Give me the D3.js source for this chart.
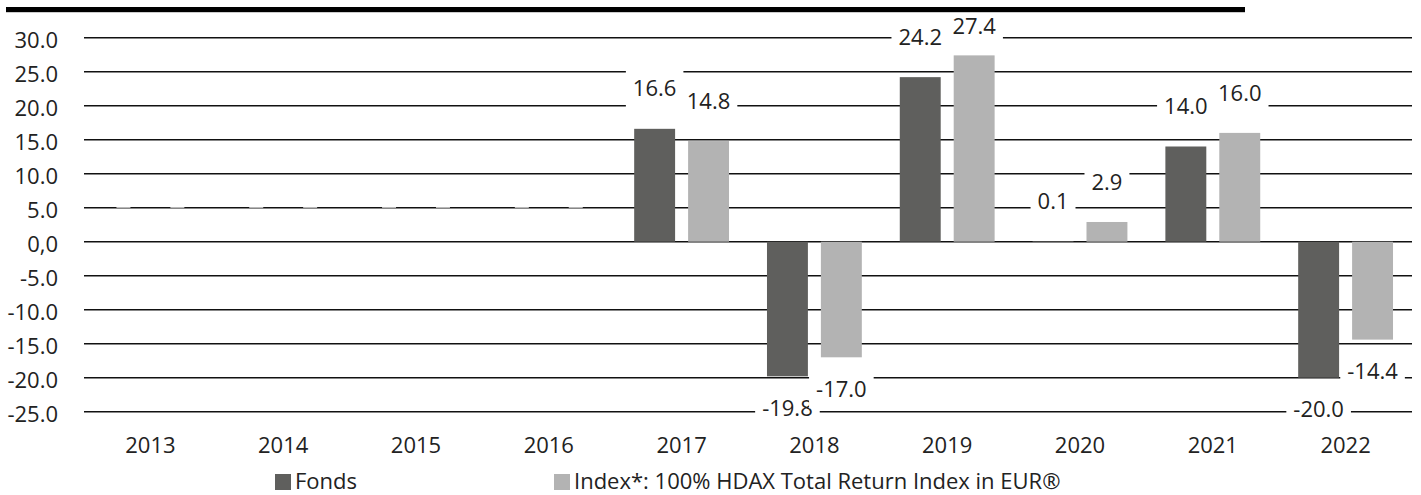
<!DOCTYPE html>
<html lang="de">

<head>
  <meta charset="UTF-8">
  <title>Fonds vs Index</title>
  <script src="https://d3js.org/d3.v7.min.js"></script>
  <style>
    html,
    body {
      padding: 0;
      margin: 0;
      background: #fff;
    }

    text {
      font-family: "Open Sans", sans-serif;
      font-size: 22px;
      fill: #222;
    }
  </style>
</head>

<body>
  <script>
    const width = 1421;
    const height = 495;

    // data
    const years = ['2013', '2014', '2015', '2016', '2017', '2018', '2019', '2020', '2021', '2022'];
    const fonds = [null, null, null, null, 16.6, -19.8, 24.2, 0.1, 14.0, -20.0];
    const index = [null, null, null, null, 14.8, -17.0, 27.4, 2.9, 16.0, -14.4];
    const seriesNames = ['Fonds', 'Index*: 100% HDAX Total Return Index in EUR®'];
    const seriesColors = ['#5f5f5d', '#b3b3b3'];
    const yTicks = [30, 25, 20, 15, 10, 5, 0, -5, -10, -15, -20, -25];
    const yTickLabels = ['30.0', '25.0', '20.0', '15.0', '10.0', '5.0', '0,0', '-5.0', '-10.0', '-15.0', '-20.0', '-25.0'];

    const rows = years.map((year, i) => ({ year, values: [fonds[i], index[i]] }));

    const svg = d3.select('body').append('svg')
      .attr('width', width)
      .attr('height', height);

    const x0 = d3.scaleBand().domain(years).range([84, 1412]);
    const x1 = d3.scaleBand().domain([0, 1])
      .range([0, x0.bandwidth()])
      .paddingInner(0.241)
      .paddingOuter(0.352);
    const y = d3.scaleLinear().domain([-25, 30]).range([411.7, 37.7]);

    // grid
    svg.append('g').selectAll('line')
      .data(yTicks)
      .join('line')
      .attr('x1', 84)
      .attr('x2', 1412)
      .attr('y1', (d) => y(d))
      .attr('y2', (d) => y(d))
      .attr('stroke', '#111')
      .attr('stroke-width', 1.6);

    svg.append('g').selectAll('text')
      .data(yTicks)
      .join('text')
      .attr('x', 58)
      .attr('y', (d) => y(d) + 10.5)
      .attr('text-anchor', 'end')
      .text((d, i) => yTickLabels[i]);

    // bars
    const groups = svg.append('g').selectAll('g')
      .data(rows)
      .join('g')
      .attr('transform', (d) => `translate(${x0(d.year)},0)`);

    groups.selectAll('rect')
      .data((d) => d.values.map((v, k) => ({ v, k })).filter((e) => e.v !== null))
      .join('rect')
      .attr('x', (d) => x1(d.k))
      .attr('width', x1.bandwidth())
      .attr('y', (d) => y(Math.max(0, d.v)))
      .attr('height', (d) => Math.abs(y(d.v) - y(0)))
      .attr('fill', (d) => seriesColors[d.k]);

    // data labels with white box
    const labels = groups.selectAll('g.lbl')
      .data((d) => d.values.map((v, k) => ({ v, k })))
      .join('g')
      .attr('class', 'lbl');

    labels.each(function (d) {
      const g = d3.select(this);
      const v = d.v === null ? 0 : d.v;
      let cy = v >= 0 ? y(v) - 40 : y(v) + 32;
      cy = Math.max(26, cy);
      const cx = x1(d.k) + x1.bandwidth() / 2;
      const box = g.append('rect').attr('fill', '#fff');
      const t = g.append('text')
        .attr('x', cx)
        .attr('y', cy + 7.6)
        .attr('text-anchor', 'middle')
        .text(d.v === null ? '' : d.v.toFixed(1));
      const w = t.node().getComputedTextLength() + 14;
      const h = d.v === null ? 12 : 38;
      box.attr('x', cx - w / 2)
        .attr('y', cy - h / 2)
        .attr('width', w)
        .attr('height', h);
    });

    // year labels
    svg.append('g').selectAll('text')
      .data(years)
      .join('text')
      .attr('x', (d) => x0(d) + x0.bandwidth() / 2)
      .attr('y', 453)
      .attr('text-anchor', 'middle')
      .text((d) => d);

    // top rule
    svg.append('rect')
      .attr('x', 6)
      .attr('y', 7)
      .attr('width', 1239)
      .attr('height', 5.2)
      .attr('fill', '#000');

    // legend
    const legendX = [275, 554];
    const legend = svg.append('g').selectAll('g')
      .data(seriesNames)
      .join('g')
      .attr('transform', (d, i) => `translate(${legendX[i]},0)`);

    legend.append('rect')
      .attr('x', 0)
      .attr('y', 474)
      .attr('width', 16)
      .attr('height', 16)
      .attr('fill', (d, i) => seriesColors[i]);

    legend.append('text')
      .attr('x', 20)
      .attr('y', 489)
      .text((d) => d);
  </script>
</body>

</html>
